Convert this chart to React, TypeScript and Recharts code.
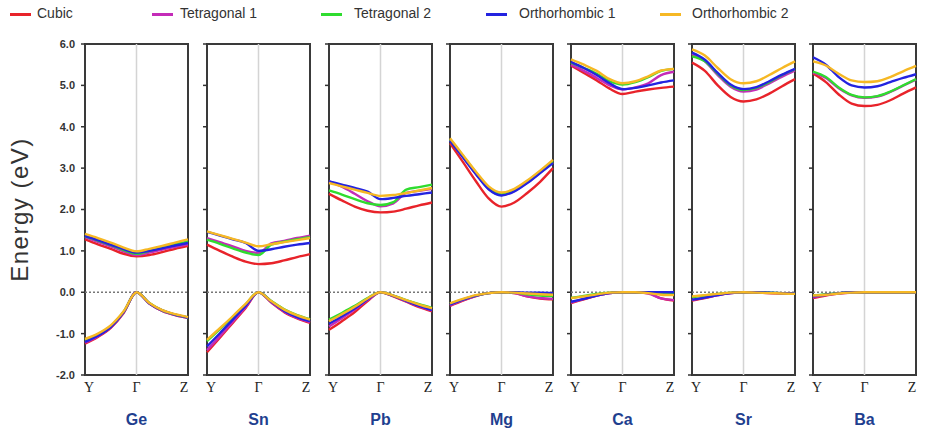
import { LineChart, Line, XAxis, YAxis, ReferenceLine, ReferenceArea, Label } from 'recharts';

// k-path sample positions: Y (0) -> Γ (0.5) -> Z (1)
const K_POINTS = [0, 0.125, 0.25, 0.375, 0.5, 0.625, 0.75, 0.875, 1];
const K_LABELS: Record<number, string> = { 0: 'Y', 0.5: 'Γ', 1: 'Z' };
const ENERGY_TICKS = [-2, -1, 0, 1, 2, 3, 4, 5, 6];

const SERIES = ['Cubic', 'Tetragonal 1', 'Tetragonal 2', 'Orthorhombic 1', 'Orthorhombic 2'];
const COLORS = ['#e8232a', '#c42bb8', '#2fdc2f', '#2323e0', '#f6b824'];

// band edges (eV), one row per phase in SERIES order
const GE_CB = [
  [1.28, 1.16, 1.05, 0.93, 0.87, 0.9, 0.97, 1.05, 1.12],
  [1.33, 1.22, 1.11, 0.99, 0.9, 0.96, 1.03, 1.1, 1.16],
  [1.35, 1.25, 1.14, 1.02, 0.93, 1.0, 1.08, 1.16, 1.23],
  [1.36, 1.26, 1.15, 1.04, 0.96, 1.0, 1.06, 1.13, 1.19],
  [1.41, 1.31, 1.2, 1.08, 0.99, 1.05, 1.12, 1.2, 1.28],
];
const GE_VB = [
  [-1.24, -1.08, -0.86, -0.5, 0, -0.27, -0.45, -0.55, -0.62],
  [-1.22, -1.06, -0.85, -0.49, 0, -0.27, -0.45, -0.55, -0.62],
  [-1.17, -1.02, -0.82, -0.47, 0, -0.26, -0.44, -0.54, -0.61],
  [-1.2, -1.05, -0.84, -0.48, 0, -0.27, -0.44, -0.54, -0.61],
  [-1.13, -1.0, -0.8, -0.46, 0, -0.26, -0.43, -0.53, -0.6],
];

const SN_CB = [
  [1.15, 1.0, 0.86, 0.74, 0.68, 0.7, 0.77, 0.85, 0.92],
  [1.31, 1.21, 1.11, 1.0, 0.95, 1.18, 1.24, 1.31, 1.37],
  [1.27, 1.17, 1.06, 0.96, 0.9, 1.15, 1.22, 1.28, 1.33],
  [1.46, 1.37, 1.28, 1.19, 1.0, 1.04, 1.1, 1.15, 1.19],
  [1.47, 1.38, 1.29, 1.2, 1.11, 1.16, 1.21, 1.26, 1.31],
];
const SN_VB = [
  [-1.45, -1.1, -0.74, -0.38, 0, -0.25, -0.48, -0.63, -0.74],
  [-1.4, -1.06, -0.71, -0.36, 0, -0.24, -0.47, -0.62, -0.72],
  [-1.18, -0.89, -0.6, -0.29, 0, -0.21, -0.41, -0.55, -0.65],
  [-1.31, -0.99, -0.66, -0.33, 0, -0.23, -0.45, -0.6, -0.7],
  [-1.15, -0.87, -0.58, -0.28, 0, -0.22, -0.42, -0.56, -0.66],
];

const PB_CB = [
  [2.38, 2.22, 2.07, 1.97, 1.93, 1.95, 2.02, 2.1, 2.17],
  [2.68, 2.55, 2.38, 2.2, 2.08, 2.15, 2.4, 2.45, 2.5],
  [2.46, 2.36, 2.25, 2.15, 2.11, 2.18, 2.48, 2.54, 2.6],
  [2.68, 2.6, 2.52, 2.43, 2.25, 2.28, 2.33, 2.37, 2.41],
  [2.64, 2.56, 2.48, 2.4, 2.33, 2.35, 2.4, 2.46, 2.52],
];
const PB_VB = [
  [-0.91, -0.7, -0.48, -0.21, 0, -0.1, -0.23, -0.36, -0.46],
  [-0.83, -0.63, -0.42, -0.19, 0, -0.09, -0.22, -0.34, -0.44],
  [-0.66, -0.5, -0.33, -0.14, 0, -0.08, -0.19, -0.29, -0.38],
  [-0.76, -0.58, -0.39, -0.17, 0, -0.09, -0.21, -0.33, -0.43],
  [-0.7, -0.53, -0.35, -0.15, 0, -0.08, -0.19, -0.3, -0.39],
];

const MG_CB = [
  [3.6, 3.15, 2.69, 2.27, 2.07, 2.17, 2.4, 2.67, 3.0],
  [3.68, 3.28, 2.87, 2.5, 2.35, 2.45, 2.65, 2.89, 3.14],
  [3.7, 3.3, 2.9, 2.53, 2.38, 2.48, 2.68, 2.92, 3.17],
  [3.66, 3.26, 2.86, 2.49, 2.34, 2.44, 2.64, 2.88, 3.12],
  [3.72, 3.32, 2.92, 2.56, 2.41, 2.5, 2.7, 2.94, 3.2],
];
const MG_VB = [
  [-0.33, -0.2, -0.09, -0.02, 0, -0.02, -0.1, -0.15, -0.17],
  [-0.32, -0.19, -0.09, -0.02, 0, -0.02, -0.1, -0.14, -0.16],
  [-0.28, -0.17, -0.08, -0.02, 0, -0.01, -0.05, -0.08, -0.09],
  [-0.3, -0.18, -0.08, -0.02, 0, 0, -0.01, -0.01, -0.02],
  [-0.27, -0.16, -0.07, -0.02, 0, -0.01, -0.03, -0.05, -0.06],
];

const CA_CB = [
  [5.48, 5.3, 5.12, 4.92, 4.79, 4.85, 4.9, 4.94, 4.97],
  [5.5, 5.35, 5.18, 5.0, 4.9, 4.95, 5.05, 5.25, 5.33],
  [5.55, 5.42, 5.28, 5.1, 5.02, 5.08, 5.2, 5.35, 5.4],
  [5.57, 5.42, 5.25, 5.05, 4.91, 4.94, 5.0, 5.07, 5.12],
  [5.63, 5.5, 5.35, 5.15, 5.05, 5.1, 5.22, 5.36, 5.4],
];
const CA_VB = [
  [-0.26, -0.17, -0.08, -0.02, 0, 0, -0.02, -0.15, -0.2],
  [-0.25, -0.16, -0.08, -0.02, 0, 0, -0.03, -0.15, -0.19],
  [-0.14, -0.09, -0.04, -0.01, 0, 0, -0.01, -0.03, -0.04],
  [-0.23, -0.16, -0.08, -0.02, 0, 0, 0, 0, 0],
  [-0.14, -0.1, -0.05, -0.01, 0, 0, -0.02, -0.06, -0.07],
];

const SR_CB = [
  [5.55, 5.35, 5.0, 4.72, 4.61, 4.66, 4.8, 4.98, 5.15],
  [5.76, 5.58, 5.25, 4.97, 4.85, 4.9, 5.05, 5.21, 5.36],
  [5.7, 5.58, 5.28, 5.0, 4.89, 4.94, 5.08, 5.25, 5.39],
  [5.79, 5.62, 5.3, 5.02, 4.91, 4.96, 5.1, 5.26, 5.4],
  [5.87, 5.72, 5.42, 5.15, 5.05, 5.1, 5.25, 5.42, 5.58],
];
const SR_VB = [
  [-0.2, -0.14, -0.07, -0.02, 0, -0.01, -0.02, -0.03, -0.04],
  [-0.19, -0.13, -0.07, -0.02, 0, -0.01, -0.02, -0.03, -0.04],
  [-0.12, -0.08, -0.04, -0.01, 0, 0, -0.01, -0.02, -0.03],
  [-0.18, -0.13, -0.07, -0.02, 0, 0, -0.01, -0.02, -0.03],
  [-0.1, -0.07, -0.04, -0.01, 0, -0.01, -0.02, -0.03, -0.04],
];

const BA_CB = [
  [5.29, 5.08, 4.78, 4.56, 4.5, 4.53, 4.64, 4.8, 4.95],
  [5.31, 5.18, 4.93, 4.76, 4.7, 4.73, 4.84, 4.99, 5.14],
  [5.33, 5.2, 4.95, 4.77, 4.71, 4.74, 4.85, 5.0, 5.15],
  [5.68, 5.5, 5.2, 5.0, 4.95, 4.98, 5.08, 5.18, 5.27],
  [5.58, 5.48, 5.28, 5.12, 5.08, 5.1, 5.2, 5.34, 5.47],
];
const BA_VB = [
  [-0.14, -0.08, -0.03, -0.01, 0, 0, 0, 0, 0],
  [-0.12, -0.07, -0.03, -0.01, 0, 0, 0, 0, 0],
  [-0.08, -0.05, -0.02, 0, 0, 0, 0, 0, 0],
  [-0.1, -0.06, -0.02, 0, 0, 0, 0, 0, 0],
  [-0.08, -0.06, -0.03, -0.01, 0, 0, 0, 0, 0],
];

const PANELS = [
  { name: 'Ge', cb: GE_CB, vb: GE_VB },
  { name: 'Sn', cb: SN_CB, vb: SN_VB },
  { name: 'Pb', cb: PB_CB, vb: PB_VB },
  { name: 'Mg', cb: MG_CB, vb: MG_VB },
  { name: 'Ca', cb: CA_CB, vb: CA_VB },
  { name: 'Sr', cb: SR_CB, vb: SR_VB },
  { name: 'Ba', cb: BA_CB, vb: BA_VB },
];

const PLOT_LEFTS = [85, 207, 329, 450, 571, 692, 813];
const PLOT_W = 103;
const LEGEND_POS = [
  { line: 10, text: 37 },
  { line: 152, text: 180 },
  { line: 321, text: 354 },
  { line: 486, text: 519 },
  { line: 660, text: 692 },
];

const SANS = "'Liberation Sans', Arial, sans-serif";
const SERIF = "'Liberation Serif', 'Times New Roman', serif";

function buildRows(cb: number[][], vb: number[][]) {
  return K_POINTS.map((k, i) => {
    const row: Record<string, number> = { k };
    SERIES.forEach((_, s) => {
      row[`cb${s}`] = cb[s][i];
      row[`vb${s}`] = vb[s][i];
    });
    return row;
  });
}

const KTick = ({ x, y, payload }: any) => {
  const v = payload.value;
  const shift = v === 0 ? 4 : v === 1 ? -3 : 0;
  return (
    <text x={x + shift} y={y} dy={13} textAnchor="middle" fontFamily={SERIF} fontSize={14} fill="#222">
      {K_LABELS[v]}
    </text>
  );
};

function Panel({ name, cb, vb, index }: { name: string; cb: number[][]; vb: number[][]; index: number }) {
  const first = index === 0;
  const yw = first ? 85 : 10;
  const data = buildRows(cb, vb);

  return (
    <div style={{ position: 'absolute', left: PLOT_LEFTS[index] - yw, top: 0 }}>
      <LineChart width={yw + PLOT_W + 3} height={430} data={data} margin={{ top: 44, right: 3, bottom: 0, left: 0 }}>
        <XAxis
          dataKey="k"
          type="number"
          domain={[0, 1]}
          ticks={[0, 0.5, 1]}
          tick={<KTick />}
          tickLine={false}
          axisLine={false}
          tickSize={4}
          tickMargin={0}
          height={55}
        >
          <Label value={name} position="insideBottom" offset={5} fill="#1f3f8f" fontSize={16} fontWeight={700} fontFamily={SANS} />
        </XAxis>
        <YAxis
          type="number"
          domain={[-2, 6]}
          ticks={ENERGY_TICKS}
          width={yw}
          axisLine={false}
          tickLine={{ stroke: '#333', strokeWidth: 1.5 }}
          tickSize={4}
          tickMargin={6}
          tick={{ fill: '#333', fontSize: 11, fontWeight: 700, fontFamily: SANS }}
          tickFormatter={(v: number) => (first ? v.toFixed(1) : '')}
        >
          {first && (
            <Label
              value="Energy (eV)"
              angle={-90}
              position="insideLeft"
              offset={19}
              style={{ textAnchor: 'middle', letterSpacing: 1.5 }}
              fill="#333"
              fontSize={24}
              fontFamily={SANS}
            />
          )}
        </YAxis>
        <ReferenceLine x={0.5} stroke="#d4d4d4" strokeWidth={1.5} />
        <ReferenceLine y={0} stroke="#777" strokeWidth={1.5} strokeDasharray="2 2" />
        {SERIES.map((s, si) => [
          <Line
            key={`cb-${s}`}
            type="monotone"
            dataKey={`cb${si}`}
            stroke={COLORS[si]}
            strokeWidth={2.4}
            dot={false}
            isAnimationActive={false}
          />,
          <Line
            key={`vb-${s}`}
            type="monotone"
            dataKey={`vb${si}`}
            stroke={COLORS[si]}
            strokeWidth={2.4}
            dot={false}
            isAnimationActive={false}
          />,
        ])}
        <ReferenceArea x1={0} x2={1} y1={-2} y2={6} fill="none" stroke="#3a3a3a" strokeWidth={2} />
      </LineChart>
    </div>
  );
}

export default function App() {
  return (
    <div style={{ position: 'absolute', left: 0, top: 0, width: 929, height: 430, background: '#fff', overflow: 'hidden' }}>
      {SERIES.map((s, i) => (
        <div key={s}>
          <div
            style={{
              position: 'absolute',
              left: LEGEND_POS[i].line,
              top: 13,
              width: 21,
              height: 3,
              background: COLORS[i],
            }}
          />
          <div
            style={{
              position: 'absolute',
              left: LEGEND_POS[i].text,
              top: 5,
              fontFamily: SANS,
              fontSize: 14,
              color: '#333',
              whiteSpace: 'nowrap',
            }}
          >
            {s}
          </div>
        </div>
      ))}
      {PANELS.map((p, i) => (
        <Panel key={p.name} name={p.name} cb={p.cb} vb={p.vb} index={i} />
      ))}
    </div>
  );
}
